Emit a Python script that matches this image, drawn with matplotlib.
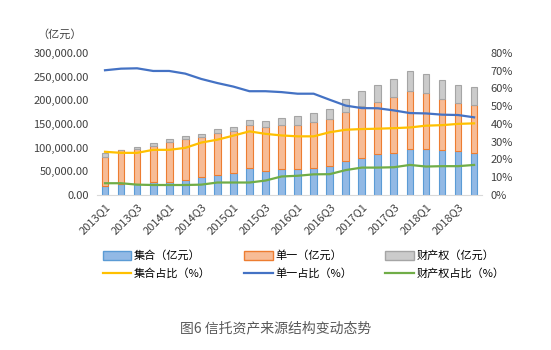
import matplotlib.pyplot as plt
from matplotlib.patches import Patch
from matplotlib.lines import Line2D
from matplotlib.ticker import FuncFormatter

plt.rcParams['font.family'] = ['Noto Sans CJK SC', 'DejaVu Sans']

# 季度
quarters = [f"{y}Q{q}" for y in range(2013, 2019) for q in range(1, 5)]

# 规模（亿元），按堆叠分段读取
jihe = [19800, 22600, 23300, 26800, 28200, 32500, 37400, 43000,
        47300, 56500, 51500, 54000, 54000, 56500, 62000, 72000,
        79000, 85400, 89600, 98000, 98000, 94000, 92000, 89600]
danyi = [61200, 71400, 73400, 76200, 83300, 85500, 84600, 87500,
         86700, 90500, 91500, 93500, 94000, 98000, 98000, 103000,
         108000, 111100, 116400, 121000, 117000, 108500, 102000, 99400]
caichan = [7000, 1000, 4300, 6000, 6500, 7000, 6000, 8500,
           9000, 11000, 13000, 14500, 18500, 18500, 21000, 27500,
           32600, 36500, 39000, 43000, 40500, 39500, 38000, 38000]

# 占比（%）
jihe_pct = [24.3, 23.7, 23.7, 25.4, 25.4, 26.5, 29.5, 31.1,
            33.4, 35.8, 34.4, 33.5, 33.0, 33.0, 35.3, 36.7,
            37.1, 37.3, 37.6, 38.0, 39.0, 39.3, 40.0, 40.3]
danyi_pct = [70.2, 71.1, 71.3, 69.8, 69.8, 68.3, 65.3, 63.0,
             61.0, 58.4, 58.4, 57.9, 57.0, 57.0, 53.6, 50.3,
             48.9, 48.8, 47.6, 46.1, 45.9, 45.2, 45.0, 43.7]
caichan_pct = [6.6, 6.6, 5.8, 5.6, 5.6, 5.6, 5.8, 7.0,
               7.0, 7.0, 8.1, 10.4, 10.8, 11.6, 11.7, 14.0,
               15.4, 15.4, 15.6, 16.9, 16.0, 16.2, 16.2, 16.9]

x = list(range(len(quarters)))
bottom2 = [a + b for a, b in zip(jihe, danyi)]

fig = plt.figure(figsize=(5.51, 3.5), dpi=100)
ax = fig.add_axes([0.176, 0.443, 0.699, 0.406])

w = 0.42
ax.bar(x, jihe, width=w, color='#92B9E5', edgecolor='#5B9BD5', linewidth=0.8)
ax.bar(x, danyi, width=w, bottom=jihe, color='#F7BC96', edgecolor='#ED7D31', linewidth=0.8)
ax.bar(x, caichan, width=w, bottom=bottom2, color='#CBCBCB', edgecolor='#A5A5A5', linewidth=0.8)

ax.set_xlim(-0.5, 23.5)
ax.set_ylim(0, 300000)
ax.set_yticks(range(0, 300001, 50000))
ax.yaxis.set_major_formatter(FuncFormatter(lambda v, p: f"{v:,.2f}"))
ax.set_xticks(x[::2])
ax.set_xticklabels(quarters[::2], rotation=45, ha='right', rotation_mode='anchor')

ax2 = ax.twinx()
ax2.plot(x, jihe_pct, color='#FFC000', linewidth=1.6)
ax2.plot(x, danyi_pct, color='#4472C4', linewidth=1.6)
ax2.plot(x, caichan_pct, color='#70AD47', linewidth=1.6)
ax2.set_ylim(0, 80)
ax2.set_yticks(range(0, 81, 10))
ax2.yaxis.set_major_formatter(FuncFormatter(lambda v, p: f"{int(v)}%"))

for a in (ax, ax2):
    for s in a.spines.values():
        s.set_visible(False)
    a.tick_params(length=0, labelsize=8, labelcolor='#404040')
ax.spines['bottom'].set_visible(True)
ax.spines['bottom'].set_color('#D9D9D9')
ax.tick_params(axis='x', pad=5)
ax.tick_params(axis='y', pad=6)
ax2.tick_params(axis='y', pad=6)

fig.text(0.068, 0.893, '（亿元）', fontsize=8, color='#404040')

handles = [
    Patch(facecolor='#92B9E5', edgecolor='#5B9BD5'),
    Line2D([], [], color='#FFC000', linewidth=1.6),
    Patch(facecolor='#F7BC96', edgecolor='#ED7D31'),
    Line2D([], [], color='#4472C4', linewidth=1.6),
    Patch(facecolor='#CBCBCB', edgecolor='#A5A5A5'),
    Line2D([], [], color='#70AD47', linewidth=1.6),
]
labels = ['集合（亿元）', '集合占比（%）', '单一（亿元）', '单一占比（%）',
          '财产权（亿元）', '财产权占比（%）']
fig.legend(handles, labels, ncol=3, loc='upper left', bbox_to_anchor=(0.176, 0.3),
           frameon=False, fontsize=8, handlelength=2.6, handleheight=0.8,
           columnspacing=3.0, labelspacing=0.65, handletextpad=0.2, borderpad=0)

fig.text(0.5, 0.05, '图6 信托资产来源结构变动态势', ha='center', fontsize=10, color='#595959')

fig.savefig('out.png', dpi=100)
